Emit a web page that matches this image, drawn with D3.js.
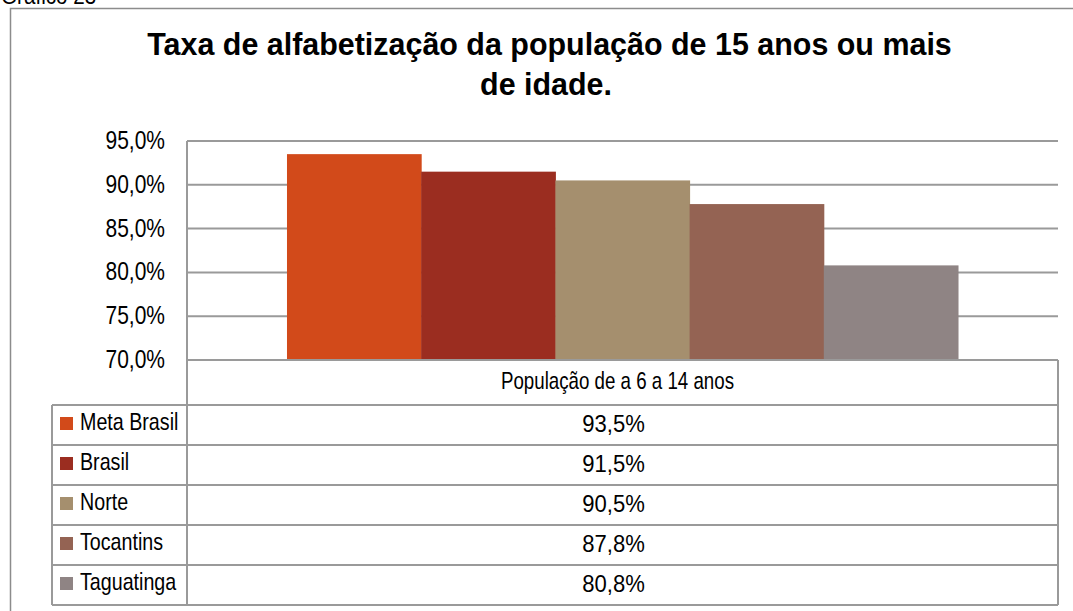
<!DOCTYPE html>
<html>
<head>
<meta charset="utf-8">
<script src="https://cdn.jsdelivr.net/npm/d3@7"></script>
<style>
  body { margin: 0; background: #fff; }
  text { font-family: "Liberation Sans", Arial, sans-serif; fill: #000; }
</style>
</head>
<body>
<div id="chart"></div>
<script>
// data
const categories = ["Meta Brasil", "Brasil", "Norte", "Tocantins", "Taguatinga"];
const values = [93.5, 91.5, 90.5, 87.8, 80.8];
const colors = ["#D24A1A", "#9B2D20", "#A58F6E", "#946353", "#8F8484"];
const groupLabel = "População de a 6 a 14 anos";
const yTicks = [70, 75, 80, 85, 90, 95];

const W = 1073, H = 611;
const plot = { left: 187, right: 1058, top: 141, bottom: 360 };
const rowH = 40, headH = 45, legendLeft = 52;
const grid = "#9a9a9a";
const narrow = 0.82; // no Arial Narrow here, squeeze Liberation Sans instead

const svg = d3.select("#chart").append("svg")
    .attr("width", W)
    .attr("height", H);

// narrow text: put it in a group and scale x only
function label(parent, x, y, str, opts) {
    opts = opts || {};
    const g = parent.append("g")
        .attr("transform", `translate(${x},${y}) scale(${opts.sx || narrow},1)`);
    return g.append("text")
        .attr("text-anchor", opts.anchor || "start")
        .attr("font-size", opts.size || 24)
        .attr("font-weight", opts.weight || "normal")
        .text(str);
}

// caption cut at the top + outer frame
label(svg, 1, 4, "Gráfico 23", { size: 24, sx: 0.86 });
svg.append("rect")
    .attr("x", 10.5).attr("y", 8.5)
    .attr("width", W + 20).attr("height", H + 20)
    .attr("fill", "none")
    .attr("stroke", "#8c8c8c")
    .attr("stroke-width", 1.5);

// title, fitted to the reference width
const t1 = label(svg, 549.5, 55, "Taxa de alfabetização da população de 15 anos ou mais",
    { size: 32, weight: "bold", anchor: "middle", sx: 1 });
const titleScale = 805 / t1.node().getComputedTextLength();
d3.select(t1.node().parentNode)
    .attr("transform", `translate(549.5,55) scale(${titleScale},1)`);
label(svg, 546, 95, "de idade.", { size: 32, weight: "bold", anchor: "middle", sx: titleScale });

const y = d3.scaleLinear().domain([70, 95]).range([plot.bottom, plot.top]);
const xGroup = d3.scaleBand().domain([groupLabel]).range([plot.left, plot.right]);
const x = d3.scaleBand().domain(categories)
    .range([xGroup(groupLabel), xGroup(groupLabel) + xGroup.bandwidth()])
    .paddingOuter(0.745).paddingInner(0);

// gridlines
svg.append("g").selectAll("line")
    .data(yTicks.filter(d => d > 70))
    .enter().append("line")
    .attr("x1", plot.left).attr("x2", plot.right)
    .attr("y1", d => y(d)).attr("y2", d => y(d))
    .attr("stroke", grid).attr("stroke-width", 2);

// y labels
const fmt = v => v.toFixed(1).replace(".", ",") + "%";
const yLab = svg.append("g");
yTicks.forEach(d => label(yLab, 165, y(d) + 8, fmt(d), { size: 25, anchor: "end", sx: 0.84 }));

// bars
svg.append("g").selectAll("rect")
    .data(categories)
    .enter().append("rect")
    .attr("x", d => x(d))
    .attr("y", (d, i) => y(values[i]))
    .attr("width", x.bandwidth() + 0.5)
    .attr("height", (d, i) => y(70) - y(values[i]))
    .attr("fill", (d, i) => colors[i]);

// data table
const tableTop = plot.bottom;
const rowsTop = tableTop + headH;
const tableBottom = rowsTop + rowH * categories.length;
const t = svg.append("g").attr("stroke", grid).attr("stroke-width", 2);

t.append("line").attr("x1", plot.left).attr("x2", plot.right)
    .attr("y1", tableTop).attr("y2", tableTop);
t.selectAll(".hline")
    .data(d3.range(categories.length + 1))
    .enter().append("line")
    .attr("x1", legendLeft).attr("x2", plot.right)
    .attr("y1", i => rowsTop + i * rowH).attr("y2", i => rowsTop + i * rowH);
t.append("line").attr("x1", plot.left).attr("x2", plot.left)
    .attr("y1", plot.top).attr("y2", tableBottom);
t.append("line").attr("x1", plot.right).attr("x2", plot.right)
    .attr("y1", tableTop).attr("y2", tableBottom);
t.append("line").attr("x1", legendLeft).attr("x2", legendLeft)
    .attr("y1", rowsTop).attr("y2", tableBottom);

// excel centers the cells a bit left of the band middle
const midX = xGroup(groupLabel) + xGroup.bandwidth() / 2 - 5;
label(svg, midX, tableTop + 29, groupLabel, { anchor: "middle", sx: 0.78 });

const rows = svg.append("g");
categories.forEach((c, i) => {
    const ry = rowsTop + i * rowH;
    rows.append("rect")
        .attr("x", 60).attr("y", ry + 12)
        .attr("width", 13).attr("height", 13)
        .attr("fill", colors[i]);
    label(rows, 80, ry + 25, c, { sx: 0.82 });
    label(rows, midX - 4, ry + 27, fmt(values[i]), { anchor: "middle", sx: 0.92 });
});
</script>
</body>
</html>
